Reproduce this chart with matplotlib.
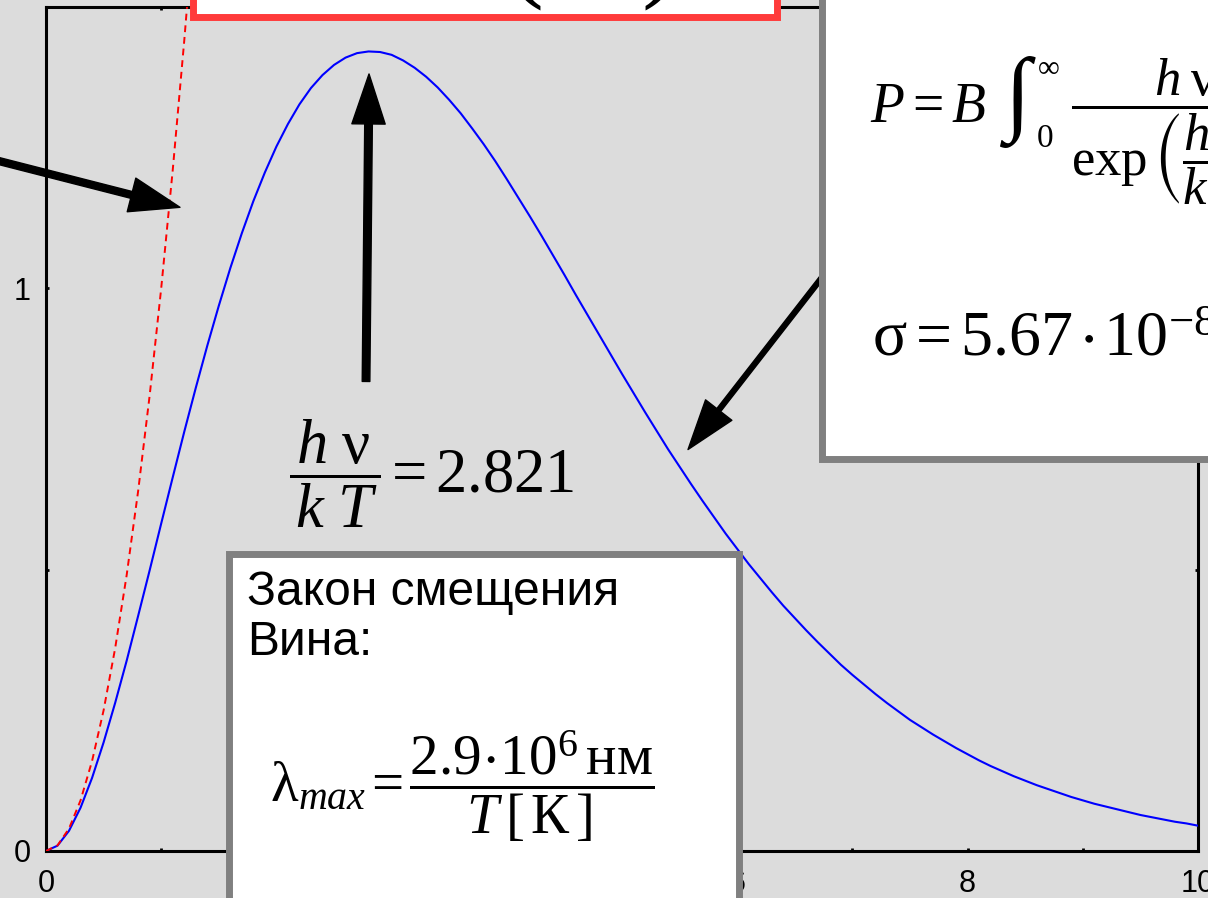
import matplotlib
matplotlib.use("Agg")
import matplotlib.pyplot as plt
from matplotlib.patches import Rectangle

# Planck curve x^3 / (exp(x) - 1), x = h*nu / (k*T)
x_planck = [0.0, 0.1, 0.2, 0.3, 0.4, 0.5, 0.6, 0.7, 0.8, 0.9,
            1.0, 1.1, 1.2, 1.3, 1.4, 1.5, 1.6, 1.7, 1.8, 1.9,
            2.0, 2.1, 2.2, 2.3, 2.4, 2.5, 2.6, 2.7, 2.8, 2.9,
            3.0, 3.1, 3.2, 3.3, 3.4, 3.5, 3.6, 3.7, 3.8, 3.9,
            4.0, 4.1, 4.2, 4.3, 4.4, 4.5, 4.6, 4.7, 4.8, 4.9,
            5.0, 5.1, 5.2, 5.3, 5.4, 5.5, 5.6, 5.7, 5.8, 5.9,
            6.0, 6.1, 6.2, 6.3, 6.4, 6.5, 6.6, 6.7, 6.8, 6.9,
            7.0, 7.1, 7.2, 7.3, 7.4, 7.5, 7.6, 7.7, 7.8, 7.9,
            8.0, 8.1, 8.2, 8.3, 8.4, 8.5, 8.6, 8.7, 8.8, 8.9,
            9.0, 9.1, 9.2, 9.3, 9.4, 9.5, 9.6, 9.7, 9.8, 9.9, 10.0]
y_planck = [0.000, 0.0095, 0.036, 0.077, 0.130, 0.193, 0.263, 0.338, 0.418, 0.499,
            0.582, 0.664, 0.745, 0.823, 0.898, 0.969, 1.036, 1.098, 1.155, 1.206,
            1.252, 1.292, 1.327, 1.356, 1.379, 1.397, 1.410, 1.418, 1.421, 1.420,
            1.415, 1.405, 1.392, 1.376, 1.357, 1.335, 1.311, 1.284, 1.256, 1.226,
            1.194, 1.161, 1.128, 1.094, 1.059, 1.024, 0.988, 0.953, 0.918, 0.883,
            0.848, 0.814, 0.780, 0.747, 0.714, 0.683, 0.652, 0.622, 0.593, 0.564,
            0.537, 0.510, 0.485, 0.460, 0.436, 0.414, 0.392, 0.371, 0.351, 0.331,
            0.313, 0.296, 0.279, 0.263, 0.248, 0.233, 0.220, 0.207, 0.195, 0.183,
            0.172, 0.161, 0.151, 0.142, 0.133, 0.125, 0.117, 0.110, 0.103, 0.096,
            0.090, 0.084, 0.079, 0.074, 0.069, 0.064, 0.060, 0.056, 0.052, 0.049, 0.045]

# Rayleigh-Jeans limit x^2
x_rj = [0.0, 0.1, 0.2, 0.3, 0.4, 0.5, 0.6, 0.7, 0.8, 0.9, 1.0, 1.1, 1.2, 1.3]
y_rj = [0.0, 0.01, 0.04, 0.09, 0.16, 0.25, 0.36, 0.49, 0.64, 0.81, 1.0, 1.21, 1.44, 1.69]

x_peak = 2.821
y_peak = 1.421

W, H = 1208, 898
BG = "#dcdcdc"

plt.rcParams["mathtext.fontset"] = "custom"
plt.rcParams["mathtext.rm"] = "Liberation Serif"
plt.rcParams["mathtext.it"] = "Liberation Serif:italic"
plt.rcParams["mathtext.bf"] = "Liberation Serif:bold"
plt.rcParams["mathtext.fallback"] = "stix"
plt.rcParams["font.family"] = ["Liberation Sans", "DejaVu Sans"]


def fx(px):
    return px / W


def fy(py):
    return 1 - py / H


fig = plt.figure(figsize=(W / 100, H / 100), dpi=100, facecolor=BG)
ax = fig.add_axes([fx(46), fy(851), (1198 - 46) / W, (851 - 7) / H])
ax.set_facecolor(BG)

ax.plot(x_planck, y_planck, color="blue", lw=1.5, zorder=3)
ax.plot(x_rj, y_rj, color="red", lw=1.4, ls=(0, (3.5, 2.5)), zorder=3)

ax.set_xlim(0, 10)
ax.set_ylim(0, 1.5)
ax.set_xticks([0, 2, 4, 6, 8, 10])
ax.set_xticks([1, 3, 5, 7, 9], minor=True)
ax.set_yticks([0, 1])
ax.set_yticks([0.5], minor=True)
ax.tick_params(which="both", direction="in", length=2.5, width=2,
               top=True, right=True, labelsize=22)
ax.tick_params(axis="x", pad=13)
ax.tick_params(axis="y", pad=11)
for s in ax.spines.values():
    s.set_linewidth(2.2)

# arrows pointing at the curves
ax.annotate("", xy=(1.163, 1.144), xytext=(-0.92, 1.253), annotation_clip=False,
            arrowprops=dict(width=5, headwidth=25, headlength=36, facecolor="k",
                            edgecolor="k", shrink=0))
ax.annotate("", xy=(x_peak - 0.017, y_peak - 0.04), xytext=(2.778, 0.8345),
            arrowprops=dict(width=5.5, headwidth=24, headlength=36, facecolor="k",
                            edgecolor="k", shrink=0))
ax.annotate("", xy=(5.573, 0.7135), xytext=(6.89, 1.06),
            arrowprops=dict(width=3.5, headwidth=24, headlength=36, facecolor="k",
                            edgecolor="k", shrink=0))

ax.text(fx(289), fy(493),
        r"$\dfrac{\hspace{0.15}h\hspace{0.3}\mathrm{\nu}\hspace{0.15}}"
        r"{\hspace{0.15}k\hspace{0.3}T\hspace{0.15}}\hspace{-0.08}=\hspace{-0.02}2.821$",
        transform=fig.transFigure, fontsize=45, ha="left", va="baseline")


# text boxes
def box(left, top, right, bottom, ec):
    fig.add_artist(Rectangle((fx(left), fy(bottom)), (right - left) / W,
                             (bottom - top) / H, transform=fig.transFigure,
                             facecolor="white", edgecolor=ec, lw=5, zorder=5))


box(193, -200, 777, 16.5, "#ff3b3b")
box(228.5, 553.5, 739, 1000, "#808080")
box(822, -200, 1400, 459, "#808080")

# lower ends of the brackets of the formula in the red box
fig.text(fx(524), fy(12), r"$($", fontsize=80, ha="center", va="bottom", zorder=6)
fig.text(fx(658), fy(12), r"$)$", fontsize=80, ha="center", va="bottom", zorder=6)

fig.text(fx(247), fy(570), "Закон смещения\nВина:", fontsize=34.5,
         ha="left", va="top", linespacing=1.15, zorder=6)
fig.text(fx(270), fy(802),
         r"$\mathrm{\lambda}_{max}\hspace{-0.06}=\hspace{-0.06}"
         r"\dfrac{2.9\!\cdot\!10^{6}\hspace{0.18}\mathrm{нм}}{T\,[\,\mathrm{К}\,]}$",
         fontsize=41, ha="left", va="baseline", zorder=6)

fig.text(fx(870), fy(122), r"$P=B$", fontsize=40, ha="left", va="baseline", zorder=6)
fig.text(fx(1000), fy(54), r"$\int$", fontsize=68, ha="left", va="top", zorder=6)
fig.text(fx(1037), fy(82), r"$\infty$", fontsize=22, ha="left", va="bottom", zorder=6)
fig.text(fx(1036), fy(147), r"$0$", fontsize=24, ha="left", va="baseline", zorder=6)
fig.text(fx(1071), fy(122),
         r"$\dfrac{h\;\mathrm{\nu}^3\,d\mathrm{\nu}}"
         r"{\exp\left(\dfrac{h\;\mathrm{\nu}}{k\;T}\right)\;-\;1}$",
         fontsize=38, ha="left", va="baseline", zorder=6)
fig.text(fx(872), fy(355),
         r"$\mathrm{\sigma}=5.67\hspace{-0.06}\cdot\hspace{-0.06}10^{-8}"
         r"\,\mathrm{Вт/(м^2\,К^4)}$",
         fontsize=46, ha="left", va="baseline", zorder=6)

fig.savefig("out.png", dpi=100, facecolor=fig.get_facecolor())
